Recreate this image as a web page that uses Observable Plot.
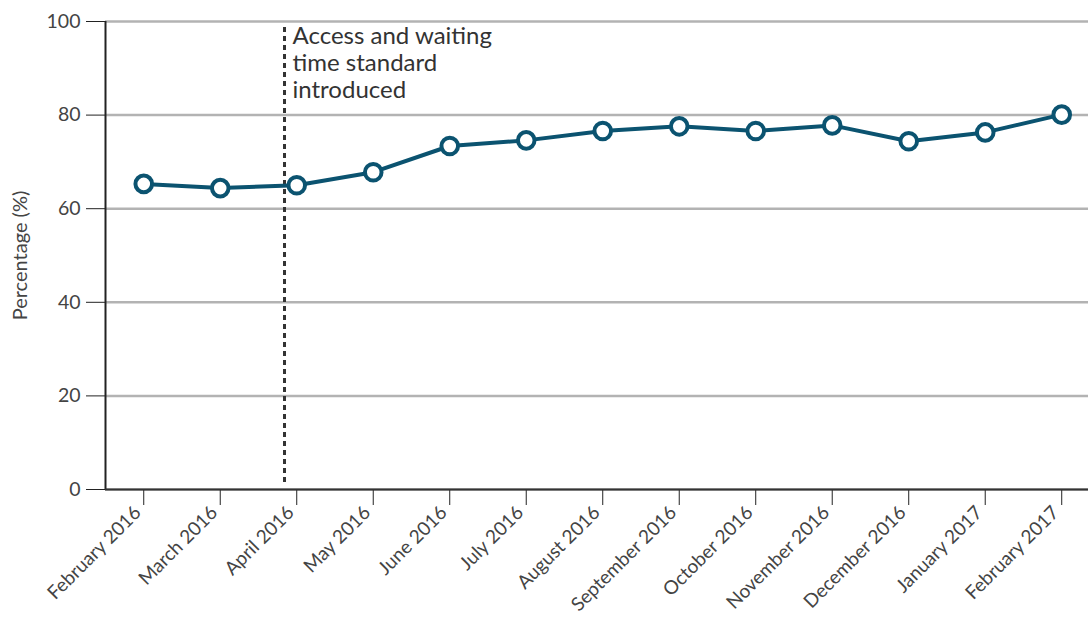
<!DOCTYPE html>
<html>
<head>
<meta charset="utf-8">
<script src="https://cdn.jsdelivr.net/npm/d3@7"></script>
<script src="https://cdn.jsdelivr.net/npm/@observablehq/plot@0.6"></script>
<style>
  html, body { margin: 0; padding: 0; background: #fff; overflow: hidden; }
  #chart svg { display: block; }
</style>
</head>
<body>
<div id="chart"></div>
<script>
const months = ["February 2016", "March 2016", "April 2016", "May 2016", "June 2016", "July 2016",
  "August 2016", "September 2016", "October 2016", "November 2016", "December 2016",
  "January 2017", "February 2017"];
const values = [65.3, 64.4, 65.0, 67.8, 73.4, 74.6, 76.6, 77.6, 76.6, 77.8, 74.4, 76.3, 80.1];
const yTicks = [0, 20, 40, 60, 80, 100];
const yLabel = "Percentage (%)";
const eventPosition = 1.84; // just before April 2016
const eventText = "Access and waiting\ntime standard\nintroduced";

const data = months.map((m, i) => ({i, month: m, value: values[i]}));
const teal = "#0b5370";
const xIdx = d3.range(months.length);

const chart = Plot.plot({
  width: 1088,
  height: 630,
  marginLeft: 105,
  marginRight: 0,
  marginTop: 21,
  marginBottom: 141,
  style: {fontFamily: "Lato, 'Open Sans', sans-serif", color: "#444", background: "#fff"},
  x: {domain: [-0.5, 12.35]},
  y: {domain: [0, 100]},
  marks: [
    Plot.gridY(yTicks, {stroke: "#b3b3b3", strokeOpacity: 1, strokeWidth: 2.5}),
    Plot.axisY(yTicks, {tickSize: 19, tickPadding: 6, fontSize: 19.5, stroke: "#222",
      fill: "#444", label: null}),
    Plot.text([yLabel], {frameAnchor: "left", dx: -85, rotate: -90, fontSize: 20, fill: "#444",
      textAnchor: "middle"}),
    Plot.axisX(xIdx, {tickSize: 16, tickFormat: () => "", stroke: "#222", label: null}),
    Plot.axisX(xIdx, {tickFormat: i => months[i], tickRotate: -45,
      tickSize: 0, tickPadding: 20, dx: -6, fontSize: 19, fill: "#444", label: null}),
    Plot.ruleX([-0.5], {stroke: "#222", strokeWidth: 2}),
    Plot.ruleY([0], {stroke: "#333", strokeWidth: 2}),
    Plot.ruleX([eventPosition], {y1: 1.5, y2: 99, stroke: "#333", strokeWidth: 3, strokeDasharray: "5,4"}),
    Plot.text([eventText], {x: eventPosition, y: 99.2, dx: 8, textAnchor: "start", lineAnchor: "top",
      fontSize: 24, fill: "#333", lineHeight: 1.12}),
    Plot.line(data, {x: "i", y: "value", stroke: teal, strokeWidth: 4}),
    Plot.dot(data, {x: "i", y: "value", r: 8.3, fill: "#fff", stroke: teal, strokeWidth: 4})
  ]
});
document.getElementById("chart").append(chart);
</script>
</body>
</html>
